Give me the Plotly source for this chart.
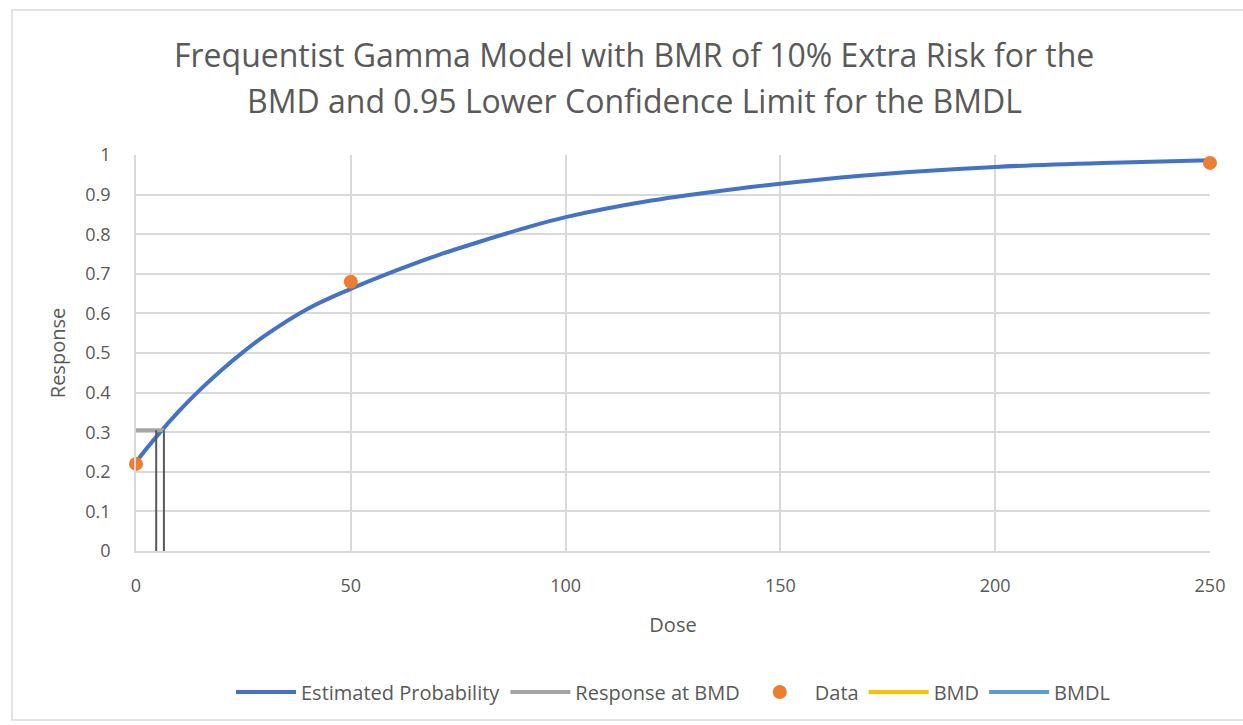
import plotly.graph_objects as go

# Fitted gamma-model curve (dose vs. estimated probability)
curve_dose = [0, 5, 10, 15, 20, 25, 30, 40, 50, 60, 70, 80, 90, 100,
              120, 140, 160, 180, 200, 225, 250]
curve_prob = [0.225, 0.292, 0.353, 0.408, 0.458, 0.503, 0.544, 0.612, 0.662,
              0.706, 0.746, 0.781, 0.814, 0.843, 0.885, 0.915, 0.939, 0.957,
              0.970, 0.980, 0.987]

# Observed data
data_dose = [0, 50, 250]
data_resp = [0.22, 0.68, 0.98]

# Benchmark values
bmr_response = 0.305
bmd = 6.5
bmdl = 4.7

title_lines = [
    "Frequentist Gamma Model with BMR of 10% Extra Risk for the",
    "BMD and 0.95 Lower Confidence Limit for the BMDL",
]

W, H = 1243, 725
L, R, T, B = 136, 1210, 155, 551  # plot area in pixels


def px_x(p):
    return (p - L) / (R - L)


def px_y(p):
    return (B - p) / (B - T)


grey_text = "#595959"
font_family = "Open Sans, Noto Sans, sans-serif"

fig = go.Figure()

fig.add_trace(go.Scatter(
    x=curve_dose, y=curve_prob, mode="lines", name="Estimated Probability",
    line=dict(color="#4472c4", width=4, shape="spline", smoothing=1.0),
))
fig.add_trace(go.Scatter(
    x=[0, bmd], y=[bmr_response, bmr_response], mode="lines",
    name="Response at BMD", line=dict(color="#a5a5a5", width=4),
))
fig.add_trace(go.Scatter(
    x=data_dose, y=data_resp, mode="markers", name="Data",
    marker=dict(color="#ed7d31", size=14), cliponaxis=False,
))
# BMD / BMDL drop lines
fig.add_trace(go.Scatter(
    x=[bmd, bmd], y=[0, bmr_response], mode="lines", showlegend=False,
    line=dict(color="#595959", width=2), hoverinfo="skip",
))
fig.add_trace(go.Scatter(
    x=[bmdl, bmdl], y=[0, bmr_response], mode="lines", showlegend=False,
    line=dict(color="#595959", width=2), hoverinfo="skip",
))
fig.add_trace(go.Scatter(
    x=[None], y=[None], mode="lines", name="BMD",
    line=dict(color="#ffc000", width=4),
))
fig.add_trace(go.Scatter(
    x=[None], y=[None], mode="lines", name="BMDL",
    line=dict(color="#5b9bd5", width=4),
))

annotations = [
    dict(text=title_lines[0], xref="paper", yref="paper", x=px_x(634),
         y=px_y(55), xanchor="center", yanchor="middle", showarrow=False,
         font=dict(size=32, color=grey_text, family=font_family)),
    dict(text=title_lines[1], xref="paper", yref="paper", x=px_x(634),
         y=px_y(100), xanchor="center", yanchor="middle", showarrow=False,
         font=dict(size=32, color=grey_text, family=font_family)),
]

fig.update_layout(
    width=W, height=H,
    margin=dict(l=L, r=W - R, t=T, b=H - B),
    paper_bgcolor="white", plot_bgcolor="white",
    font=dict(family=font_family, color=grey_text, size=18),
    annotations=annotations,
    xaxis=dict(
        range=[0, 250], tickvals=[0, 50, 100, 150, 200, 250],
        showgrid=True, gridcolor="#d9d9d9", gridwidth=1.5,
        showline=True, linecolor="#d9d9d9", linewidth=1.5,
        zeroline=False, ticks="", tickfont=dict(size=18),
        ticklabelstandoff=18,
        title=dict(text="Dose", font=dict(size=20), standoff=22),
    ),
    yaxis=dict(
        range=[0, 1], dtick=0.1, showgrid=True, gridcolor="#d9d9d9",
        gridwidth=1.5, zeroline=False, showline=True, linecolor="#d9d9d9",
        linewidth=1.5, tickfont=dict(size=18), ticks="",
        ticklabelstandoff=20,
        title=dict(text="Response", font=dict(size=20), standoff=14),
    ),
    legend=dict(
        orientation="h", x=0.5, xanchor="center", y=px_y(692), yanchor="middle",
        font=dict(size=20), itemwidth=60, tracegroupgap=0,
    ),
    shapes=[dict(
        type="rect", xref="paper", yref="paper",
        x0=px_x(12), x1=px_x(1260), y0=px_y(720), y1=px_y(10),
        line=dict(color="#d9d9d9", width=1.5), layer="below",
    )],
)

fig.write_html("out.html")
